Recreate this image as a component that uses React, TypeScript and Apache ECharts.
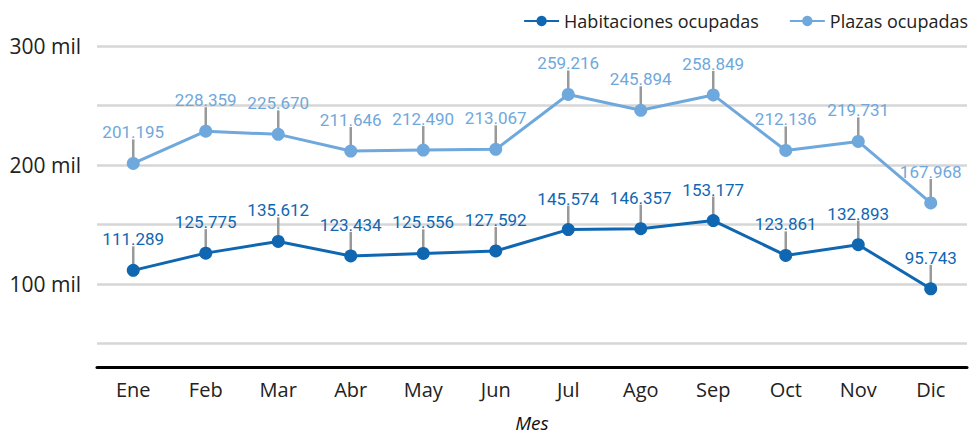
import React, { useEffect, useRef } from "react";
import * as echarts from "echarts";

const months = ["Ene", "Feb", "Mar", "Abr", "May", "Jun", "Jul", "Ago", "Sep", "Oct", "Nov", "Dic"];
const habitaciones = [111289, 125775, 135612, 123434, 125556, 127592, 145574, 146357, 153177, 123861, 132893, 95743];
const plazas = [201195, 228359, 225670, 211646, 212490, 213067, 259216, 245894, 258849, 212136, 219731, 167968];
const yLabelValues = [100000, 200000, 300000];
const yGridValues = [50000, 100000, 150000, 200000, 250000, 300000];

const DARK = "#0f67b2";
const LIGHT = "#6fa8dc";

const fmt = (v: number) => String(Math.round(v)).replace(/\B(?=(\d{3})+(?!\d))/g, ".");

export default function App() {
  const ref = useRef<HTMLDivElement>(null);
  useEffect(() => {
    if (!ref.current) return;
    const chart = echarts.init(ref.current, null, { renderer: "svg" });
    const leader = (vals: number[]) => ({
      type: "custom",
      silent: true,
      z: 1,
      data: vals.map((v, i) => [i, v]),
      encode: { x: 0, y: 1 },
      renderItem: (params: any, api: any) => {
        const p = api.coord([api.value(0), api.value(1)]);
        return {
          type: "line",
          shape: { x1: p[0], y1: p[1], x2: p[0], y2: p[1] - 24 },
          style: { stroke: "#999999", lineWidth: 2.5 },
        };
      },
    });
    const lineSeries = (name: string, vals: number[], color: string) => ({
      name,
      type: "line",
      data: vals,
      z: 3,
      symbol: "circle",
      symbolSize: 13,
      lineStyle: { color, width: 3 },
      itemStyle: { color },
      label: {
        show: true,
        position: "top",
        distance: 16,
        color,
        fontFamily: "Roboto",
        fontSize: 17,
        formatter: (p: any) => fmt(p.value),
      },
    });
    chart.setOption({
      animation: false,
      textStyle: { fontFamily: "Open Sans" },
      legend: {
        data: ["Habitaciones ocupadas", "Plazas ocupadas"],
        right: 2,
        top: 12,
        padding: 0,
        itemWidth: 35,
        itemHeight: 13,
        itemGap: 30,
        textStyle: { fontFamily: "Open Sans", fontSize: 18, color: "#222" },
      },
      grid: { left: 97, right: 3, top: 46, bottom: 68, containLabel: false, outerBoundsMode: "none" },
      xAxis: {
        type: "category",
        data: months,
        boundaryGap: true,
        axisLine: { lineStyle: { color: "#000", width: 3 } },
        axisTick: { show: false },
        axisLabel: { color: "#222", fontFamily: "Open Sans", fontSize: 20, margin: 12 },
        name: "Mes",
        nameLocation: "middle",
        nameGap: 46,
        nameTextStyle: { fontFamily: "Open Sans", fontStyle: "italic", fontSize: 19, color: "#111" },
      },
      yAxis: {
        type: "value",
        min: 30000,
        max: 300000,
        axisLine: { show: false },
        axisTick: { show: false, customValues: yGridValues },
        splitLine: { show: true, lineStyle: { color: "#d6d6d6", width: 2.5 } },
        axisLabel: {
          customValues: yLabelValues,
          color: "#222",
          fontFamily: "Open Sans",
          fontSize: 21,
          margin: 16,
          formatter: (v: number) => `${Math.round(v / 1000)} mil`,
        },
      },
      series: [
        leader(habitaciones),
        leader(plazas),
        lineSeries("Habitaciones ocupadas", habitaciones, DARK),
        lineSeries("Plazas ocupadas", plazas, LIGHT),
      ],
    });
    return () => chart.dispose();
  }, []);
  return <div ref={ref} style={{ width: 970, height: 435, position: "absolute", left: 0, top: 0 }} />;
}
